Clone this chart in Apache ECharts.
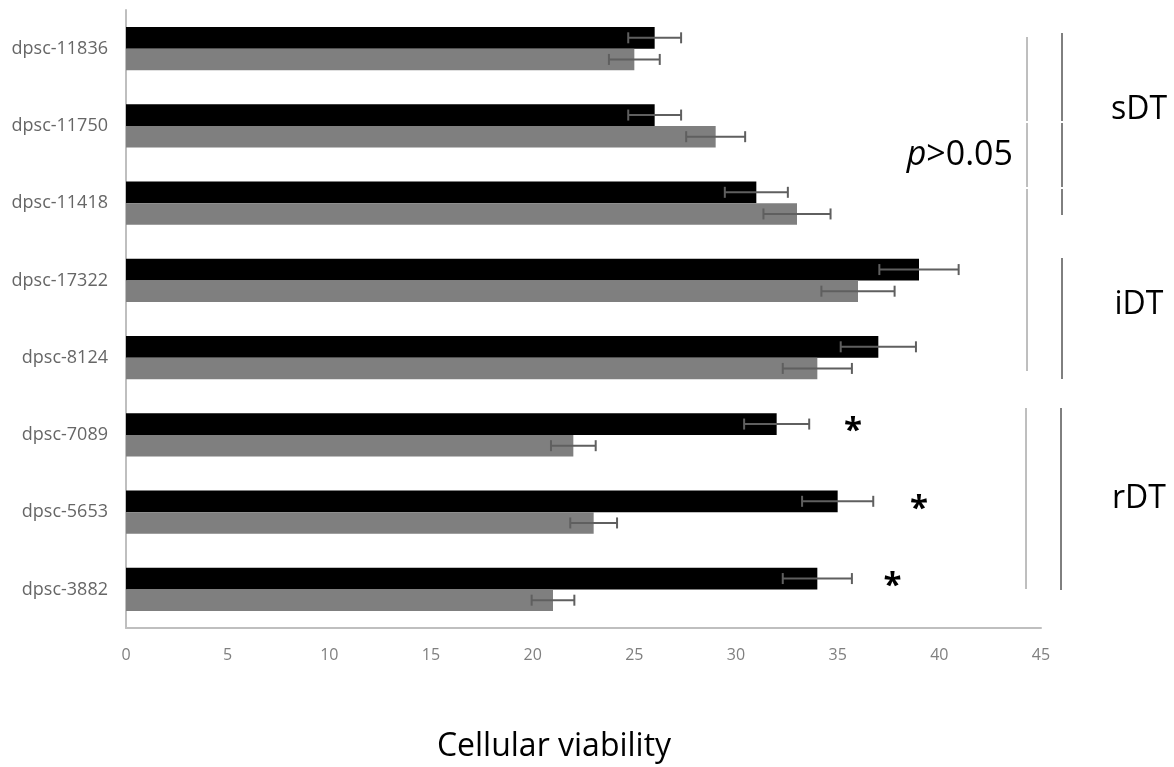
<!DOCTYPE html>
<html>
<head>
<meta charset="utf-8">
<script src="https://cdn.jsdelivr.net/npm/echarts@6/dist/echarts.min.js"></script>
<style>
html,body{margin:0;padding:0;background:#fff;}
#chart{width:1174px;height:767px;}
</style>
</head>
<body>
<div id="chart"></div>
<script>
// ---- data ----
const categories = ['dpsc-11836','dpsc-11750','dpsc-11418','dpsc-17322','dpsc-8124','dpsc-7089','dpsc-5653','dpsc-3882'];
const blackValues = [26, 26, 31, 39, 37, 32, 35, 34];
const grayValues  = [25, 29, 33, 36, 34, 22, 23, 21];
const blackErrors = [1.3, 1.3, 1.55, 1.95, 1.85, 1.6, 1.75, 1.7];
const grayErrors  = [1.25, 1.45, 1.65, 1.8, 1.7, 1.1, 1.15, 1.05];
const starPositions = [null, null, null, null, null, 35.75, 39.0, 37.7];
const xTicks = [0, 5, 10, 15, 20, 25, 30, 35, 40, 45];

const chart = echarts.init(document.getElementById('chart'), null, {renderer:'canvas'});

const CAT_GAP = 0.44;
const errData = [];
blackValues.forEach((v,i)=>errData.push([v, i, blackErrors[i], -1]));
grayValues.forEach((v,i)=>errData.push([v, i, grayErrors[i], 1]));
const starData = [];
starPositions.forEach((v,i)=>{ if(v!==null) starData.push([v, i]); });

function renderErr(params, api){
  const v = api.value(0), c = api.value(1), e = api.value(2), s = api.value(3);
  const band = api.size([0, 1])[1];
  const barH = band * (1 - CAT_GAP) / 2;
  const p = api.coord([v, c]);
  const y = p[1] + s * barH / 2;
  const lo = api.coord([v - e, c])[0];
  const hi = api.coord([v + e, c])[0];
  const cap = 5.5;
  const st = {stroke:'#5f5f5f', lineWidth:2};
  return {type:'group', children:[
    {type:'line', shape:{x1:lo, y1:y, x2:hi, y2:y}, style:st},
    {type:'line', shape:{x1:lo, y1:y-cap, x2:lo, y2:y+cap}, style:st},
    {type:'line', shape:{x1:hi, y1:y-cap, x2:hi, y2:y+cap}, style:st}
  ]};
}

function renderStar(params, api){
  const v = api.value(0), c = api.value(1);
  const band = api.size([0, 1])[1];
  const barH = band * (1 - CAT_GAP) / 2;
  const p = api.coord([v, c]);
  return {type:'text', x:p[0], y:p[1] - barH/2 + 8,
    style:{text:'*', fill:'#000', font:'bold 33px "Open Sans"', align:'center', verticalAlign:'middle'}};
}

const FONT = '"Open Sans", sans-serif';
function vline(x, y1, y2, color){
  return {type:'line', shape:{x1:x, y1:y1, x2:x, y2:y2}, style:{stroke:color, lineWidth:1}, silent:true};
}

const option = {
  backgroundColor:'#ffffff',
  animation:false,
  grid:{left:126, right:133, top:10, bottom:139, containLabel:false},
  xAxis:{
    type:'value', min:0, max:45, interval:5,
    axisLine:{show:true, lineStyle:{color:'#bfbfbf', width:2}},
    axisTick:{show:false},
    splitLine:{show:false},
    axisLabel:{color:'#7f7f7f', fontSize:16, fontFamily:FONT, margin:19,
      formatter:(val)=> xTicks.indexOf(val) >= 0 ? String(val) : ''}
  },
  yAxis:{
    type:'category', data:categories, inverse:true,
    axisLine:{show:true, lineStyle:{color:'#bfbfbf', width:2}},
    axisTick:{show:false},
    splitLine:{show:false},
    axisLabel:{color:'#666666', fontSize:18, fontFamily:FONT, margin:18}
  },
  series:[
    {type:'bar', name:'black', data:blackValues, barGap:'0%', barCategoryGap:(CAT_GAP*100)+'%',
      itemStyle:{color:'#000000'}},
    {type:'bar', name:'gray', data:grayValues, barGap:'0%', barCategoryGap:(CAT_GAP*100)+'%',
      itemStyle:{color:'#7f7f7f'}},
    {type:'custom', name:'err', data:errData, renderItem:renderErr, encode:{x:0, y:1}, z:5, clip:false},
    {type:'custom', name:'stars', data:starData, renderItem:renderStar, encode:{x:0, y:1}, z:5, clip:false}
  ],
  graphic:[
    vline(1027, 37, 121, '#7f7f7f'), vline(1027, 123, 187, '#7f7f7f'), vline(1027, 189, 371, '#7f7f7f'),
    vline(1062, 33, 121, '#000'), vline(1062, 123, 187, '#000'), vline(1062, 189, 215, '#000'),
    vline(1062, 258, 379, '#000'),
    vline(1026, 408, 589, '#7f7f7f'), vline(1061, 408, 590, '#000'),
    {type:'text', x:1139, y:110, style:{text:'sDT', fill:'#000', font:'32px "Open Sans"', align:'center', verticalAlign:'middle'}},
    {type:'text', x:1139, y:305, style:{text:'iDT', fill:'#000', font:'32px "Open Sans"', align:'center', verticalAlign:'middle'}},
    {type:'text', x:1139, y:499, style:{text:'rDT', fill:'#000', font:'32px "Open Sans"', align:'center', verticalAlign:'middle'}},
    {type:'text', x:1013, y:155, style:{
      text:'{i|p}{n|>0.05}', align:'right', verticalAlign:'middle',
      rich:{i:{font:'italic 34px "Open Sans"', fill:'#000'}, n:{font:'34px "Open Sans"', fill:'#000'}}}},
    {type:'text', x:554, y:747, style:{text:'Cellular viability', fill:'#000', font:'32px "Open Sans"', align:'center', verticalAlign:'middle'}}
  ]
};
chart.setOption(option);
</script>
</body>
</html>
